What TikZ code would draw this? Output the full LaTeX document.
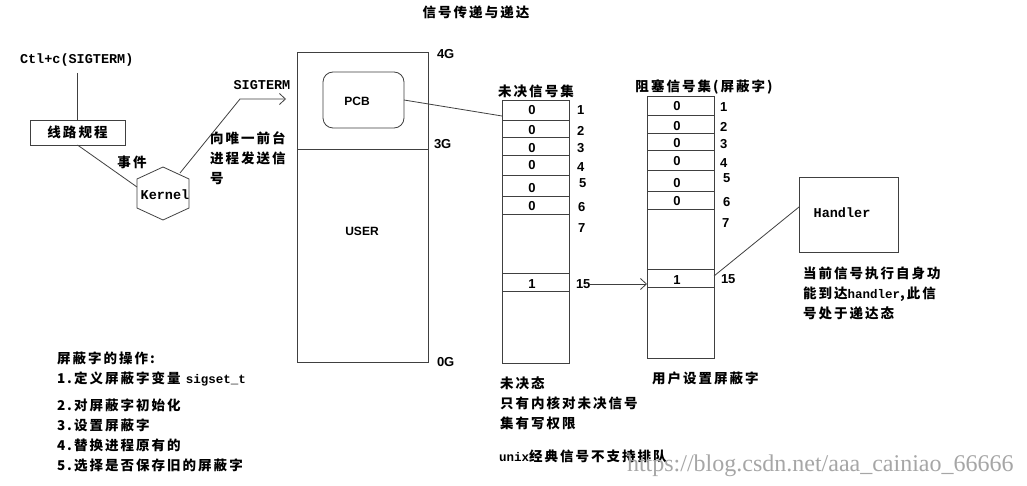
\documentclass[tikz,border=0pt]{standalone}
\usepackage{fontspec}
\usetikzlibrary{arrows.meta}
\setmainfont{Liberation Sans}
\setmonofont{Liberation Mono}
\newfontfamily\zhfam{Noto Sans CJK SC}[LetterSpace=15]
\newfontfamily\wmfam{Liberation Serif}
\newcommand\zhf{\zhfam\bfseries\fontsize{13.5}{20}\selectfont}
\newcommand\mof{\ttfamily\bfseries\fontsize{13.5}{16}\selectfont}
\newcommand\mofs{\ttfamily\bfseries\fontsize{12.5}{16}\selectfont}
\newcommand\numf{\bfseries\fontsize{13}{15}\selectfont}
\newcommand\labf{\bfseries\fontsize{12}{15}\selectfont}
\begin{document}
\begin{tikzpicture}[x=1pt,y=-1pt,
  every node/.style={inner sep=0pt,outer sep=0pt},
  ln/.style={draw=black!75,line width=0.8pt},
  boxs/.style={draw=black!75,line width=0.8pt,inner sep=0pt,outer sep=0pt},
  zh/.style={font=\zhf},
  mo/.style={font=\mof},
  num/.style={font=\numf},
  lab/.style={font=\labf},
  tip/.style={-{Straight Barb[length=6pt,width=11pt]}}]
\useasboundingbox (0,0) rectangle (1027,486);
\fill[white] (0,0) rectangle (1027,486);

% title
\node[zh] (title) at (476,12) {信号传递与递达};

% left part
\node[mo,anchor=west] (ctl) at (20,60) {Ctl+c(SIGTERM)};
\coordinate (ctlb) at (77.5,73);
\node[boxs,zh,minimum width=95,minimum height=25] (rule) at (77.5,132.5) {线路规程};
\draw[ln] (ctlb) -- (rule.north);
\node[zh] (evt) at (132,162) {事件};

% kernel hexagon
\coordinate (kt) at (163,167);
\coordinate (kur) at (189,179);
\coordinate (klr) at (189,208);
\coordinate (kb) at (163,220);
\coordinate (kll) at (137,208);
\coordinate (kul) at (137,179);
\draw[ln] (kt) -- (kur) -- (klr) -- (kb) -- (kll) -- (kul) -- cycle;
\node[mo] (kern) at (165,195) {Kernel};
\coordinate (kl) at (137,187);
\coordinate (kue) at (180,173);
\draw[ln] (rule.south) -- (kl);

% SIGTERM arrow
\coordinate (sigbend) at (240,99);
\coordinate (sigtip) at (286,99);
\draw[ln,tip] (kue) -- (sigbend) -- (sigtip);
\node[mo] (sigl) at (262,85) {SIGTERM};
\node[zh,align=left,anchor=north west] (send) at (210,132) {向唯一前台\\进程发送信\\号};

% memory box
\node[boxs,minimum width=131,minimum height=310] (mem) at (362.5,207) {};
\draw[ln] (mem.west |- 0,149) -- (mem.east |- 0,149);
\node[boxs,rounded corners=10pt,minimum width=81,minimum height=56] (pcb) at (363.5,100) {};
\node[lab] (pcbt) at (357,101) {PCB};
\node[lab] (user) at (362,231) {USER};
\node[num,anchor=west] (g4) at (437,54) {4G};
\node[num,anchor=west] (g3) at (434,144) {3G};
\node[num,anchor=west] (g0) at (437,362) {0G};

% pending set
\node[zh] (pendl) at (536,91) {未决信号集};
\node[boxs,minimum width=67,minimum height=263] (pend) at (535.5,231.5) {};
\foreach \yy in {120,137,155,175,196,214,273,291}
  \draw[ln] (pend.west |- 0,\yy) -- (pend.east |- 0,\yy);
\foreach \nm/\yy in {a/110,b/130,c/148,d/165,e/188,f/206}
  \node[num] (pv\nm) at (532,\yy) {0};
\node[num] (pvo) at (532,284) {1};
\foreach \nm/\xx/\yy in {1/577/110,2/577/131,3/577/148,4/577/167,5/579/183,6/578/207,7/578/228}
  \node[num,anchor=west] (pn\nm) at (\xx,\yy) {\nm};
\node[num,anchor=west] (pn15) at (576,284) {15};
\coordinate (pendin) at (pend.west |- 0,116);
\draw[ln] (pcb.east) -- (pendin);

% blocked set
\node[zh] (blkl) at (704,87) {阻塞信号集(屏蔽字)};
\node[boxs,minimum width=67,minimum height=262] (blk) at (680.5,227) {};
\foreach \yy in {115,133,150,170,191,209,269,287}
  \draw[ln] (blk.west |- 0,\yy) -- (blk.east |- 0,\yy);
\foreach \nm/\yy in {a/106,b/126,c/143,d/161,e/183,f/201}
  \node[num] (bv\nm) at (677,\yy) {0};
\node[num] (bvo) at (677,280) {1};
\foreach \nm/\xx/\yy in {1/720/107,2/720/127,3/720/144,4/720/163,5/723/178,6/723/202,7/722/223}
  \node[num,anchor=west] (bn\nm) at (\xx,\yy) {\nm};
\node[num,anchor=west] (bn15) at (721,279) {15};
\draw[ln,tip] (pn15.east) -- (pn15.east -| blk.west);
\node[zh] (uset) at (652,378) [anchor=west] {用户设置屏蔽字};

% handler
\node[boxs,minimum width=99,minimum height=75] (hnd) at (848.5,214.5) {};
\node[mo] (hndt) at (842,213) {Handler};
\coordinate (blkout) at (blk.east |- 0,276);
\coordinate (hndin) at (hnd.west |- 0,207);
\draw[ln] (blkout) -- (hndin);
\node[zh,align=left,anchor=north west] (hdesc) at (803,267) {当前信号执行自身功\\能到达{\mofs handler},此信\\号处于递达态};

% notes
\node[zh,align=left,anchor=north west] (ops) at (57,352) {屏蔽字的操作:\\1.定义屏蔽字变量 {\mofs sigset\_t}\\[7pt]2.对屏蔽字初始化\\3.设置屏蔽字\\4.替换进程原有的\\5.选择是否保存旧的屏蔽字};
\node[zh,align=left,anchor=north west] (pnote) at (500,377) {未决态\\只有内核对未决信号\\集有写权限};
\node[anchor=west] (unix) at (499,456) {{\mofs unix}{\zhf 经典信号不支持排队}};
\node[anchor=west,text=black!35,font=\wmfam\fontsize{24}{26}\selectfont] (wm) at (627,466) {https://blog.csdn.net/aaa\_cainiao\_66666};
\end{tikzpicture}
\end{document}
